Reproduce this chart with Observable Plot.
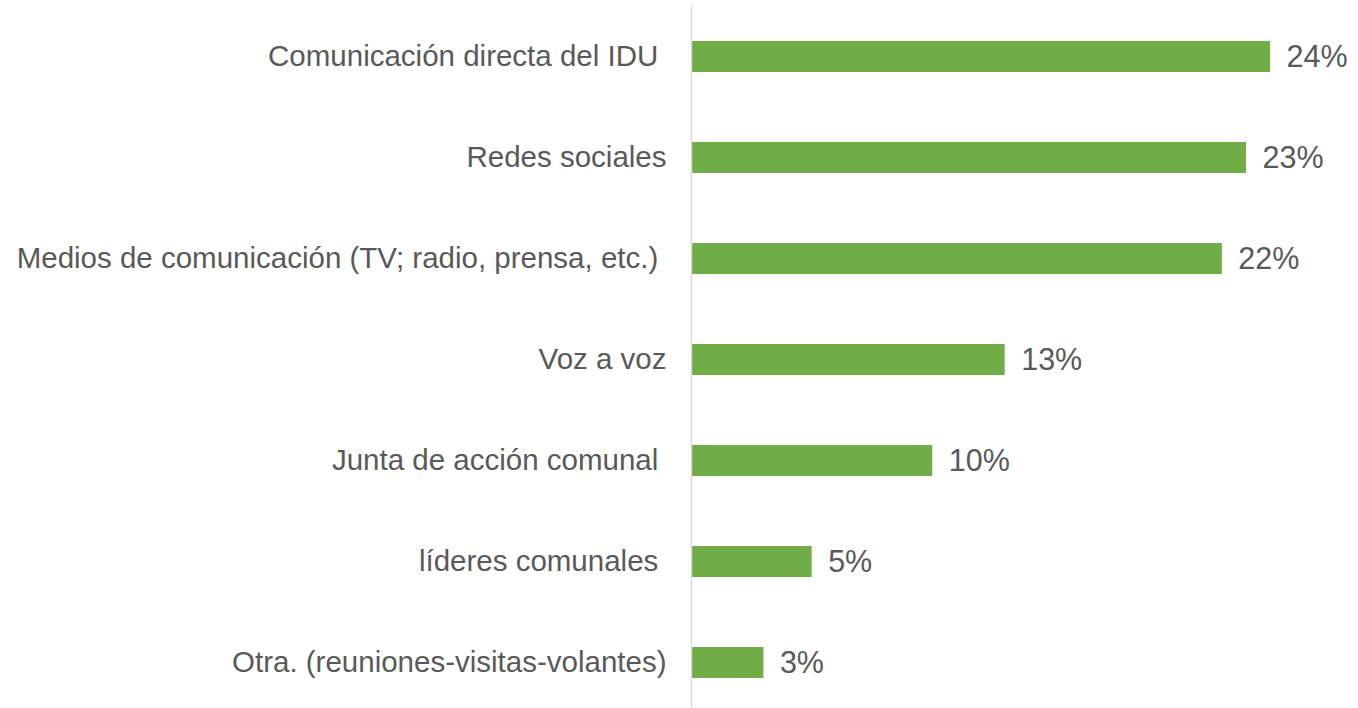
<!DOCTYPE html>
<html>
<head>
<meta charset="utf-8">
<script src="https://cdn.jsdelivr.net/npm/d3@7"></script>
<script src="https://cdn.jsdelivr.net/npm/@observablehq/plot@0.6"></script>
<style>
  html, body { margin: 0; padding: 0; background: #fff; }
  svg text { white-space: pre; }
</style>
</head>
<body>
<div id="chart"></div>
<script>
const categories = [
  "Comunicación directa del IDU ",
  "Redes sociales",
  "Medios de comunicación (TV; radio, prensa, etc.) ",
  "Voz a voz",
  "Junta de acción comunal ",
  "líderes comunales ",
  "Otra. (reuniones-visitas-volantes)"
];
const values = [24, 23, 22, 13, 10, 5, 3];

const data = categories.map((c, i) => ({category: c, value: values[i]}));

const chart = Plot.plot({
  width: 1358,
  height: 708,
  marginLeft: 691,
  marginRight: 15.5,
  marginTop: 5,
  marginBottom: 0,
  style: {fontFamily: "'Liberation Sans', Arial, sans-serif", background: "#fff"},
  x: {domain: [0, 27], axis: null},
  y: {domain: categories, paddingInner: 0.693, paddingOuter: 0.3265, align: 0.538, label: null},
  marks: [
    Plot.barX(data, {x: "value", y: "category", fill: "#70AD47"}),
    Plot.ruleX([0], {stroke: "#D9D9D9", strokeWidth: 1.5}),
    Plot.text(data, {
      x: "value", y: "category",
      text: d => `${d.value}%`,
      textAnchor: "start", dx: 16,
      fontSize: 30.5, fill: "#595959"
    }),
    Plot.axisY({tickSize: 0, tickPadding: 25, fontSize: 29.5, color: "#595959", label: null})
  ]
});
document.getElementById("chart").appendChild(chart);
</script>
</body>
</html>
